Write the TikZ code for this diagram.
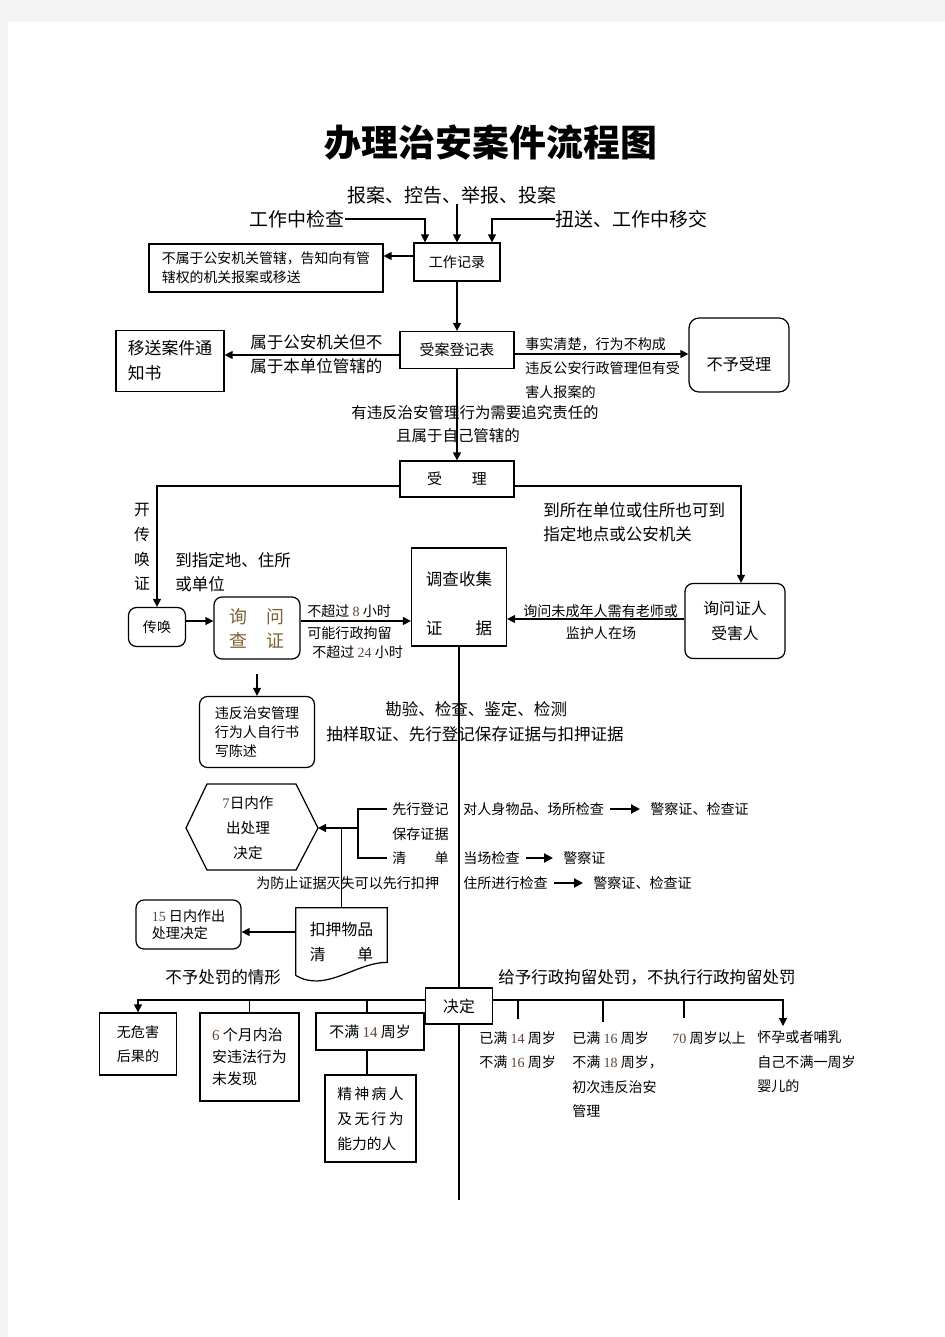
\documentclass[tikz,border=0pt]{standalone}
\usepackage{fontspec}
\setmainfont{Noto Sans CJK SC}
\newfontfamily\numfont{Liberation Serif}
\usetikzlibrary{arrows.meta,calc}
\definecolor{pagegray}{RGB}{243,243,243}
\definecolor{numcol}{RGB}{95,70,55}
\definecolor{xwcol}{RGB}{125,95,50}
\newcommand{\dg}[1]{{\numfont\color{numcol}#1}}
\newcommand{\szS}{\fontsize{8}{13.6}\selectfont}
\newcommand{\szM}{\fontsize{8.5}{12}\selectfont}
\newcommand{\szB}{\fontsize{9.4}{13.9}\selectfont}
\newcommand{\szL}{\fontsize{10.8}{13}\selectfont}
\begin{document}
\begin{tikzpicture}[x=0.02cm, y=-0.02cm,
    box/.style={draw, line width=0.7pt, inner sep=0pt, align=center},
    rbox/.style={box, rounded corners=1.6mm},
    lbl/.style={inner sep=0pt, align=left},
    ln/.style={line width=0.7pt},
    arr/.style={ln, -{Triangle[length=1.6mm, width=1.6mm]}},
    sarr/.style={line width=1.2pt, -{Triangle[length=1.8mm, width=1.8mm]}, shorten <=1.2mm, shorten >=2mm}]
    \useasboundingbox (0,0) rectangle (945,1337);
    \fill[pagegray] (0,0) rectangle (945,1337);
    \fill[white] (8,22) rectangle (945,1337);

    \node[font=\fontsize{21}{21}\selectfont\bfseries] (title) at (491,142) {办理治安案件流程图};

    \node[lbl, font=\szL] (baoan) at (452,195) {报案、控告、举报、投案};
    \node[lbl, font=\szL, anchor=east] (gzjc) at (345,219) {工作中检查};
    \node[lbl, font=\szL, anchor=west] (niusong) at (555,219) {扭送、工作中移交};
    \node[box, font=\szS, minimum width=17.2mm, minimum height=7.6mm] (jilu) at (457,262) {工作记录};
    \node[box, font=\fontsize{7.9}{10.8}\selectfont, align=left, minimum width=46.8mm, minimum height=9.6mm] (buzhu) at (266,268) {不属于公安机关管辖，告知向有管\\辖权的机关报案或移送};
    \draw[arr] (baoan.south -| jilu.north) -- (jilu.north);
    \draw[arr] (gzjc.east) -| ($(jilu.north)+(-32,0)$);
    \draw[arr] (niusong.west) -| ($(jilu.north)+(35,0)$);
    \draw[arr] ($(jilu.west)+(0,-6)$) coordinate (a) -- (a -| buzhu.east);

    \node[box, font=\szM, minimum width=22.8mm, minimum height=7.4mm] (shouan) at (457,350) {受案登记表};
    \node[box, font=\fontsize{9.6}{14.2}\selectfont, align=left, minimum width=21.6mm, minimum height=12.2mm] (yisong) at (170,361) {移送案件通\\知书};
    \node[rbox, rounded corners=2mm, font=\fontsize{9.2}{12}\selectfont, minimum width=20mm, minimum height=14.8mm] (buyu) at (739,355) {\rule{0pt}{18pt}不予受理};
    \draw[arr] (jilu.south) -- (shouan.north);
    \draw[arr] ($(shouan.west)+(0,5)$) coordinate (a) -- (a -| yisong.east);
    \draw[arr] ($(shouan.east)+(0,4)$) coordinate (a) -- (a -| buyu.west);
    \node[lbl, font=\szB, anchor=west] (shuyu) at (250,354.5) {属于公安机关但不\\属于本单位管辖的};
    \node[lbl, font=\szS, anchor=west] (shishi) at (525,368.5) {事实清楚，行为不构成\\违反公安行政管理但有受\\害人报案的};
    \node[lbl, font=\fontsize{8.8}{13}\selectfont] (youwei) at (475,413) {有违反治安管理行为需要追究责任的};
    \node[lbl, font=\fontsize{8.8}{13}\selectfont] (qieshu) at (458,436) {且属于自己管辖的};

    \node[box, font=\szM, minimum width=22.8mm, minimum height=7.2mm] (shouli) at (457,479) {受\hspace{2em}理};
    \draw[arr] (shouan.south) -- (shouli.north);
    \node[rbox, font=\szS, minimum width=11.4mm, minimum height=7.8mm] (chuanhuan) at (157,627) {传唤};
    \node[rbox, font=\fontsize{10.2}{13.6}\selectfont, text=xwcol, minimum width=17.2mm, minimum height=12.4mm] (xunwen) at (257,628) {询\hspace{1.1em}问\\查\hspace{1.1em}证};
    \node[box, font=\fontsize{9.4}{27.8}\selectfont, minimum width=19mm, minimum height=19.6mm] (diaocha) at (459,597) {\rule{0pt}{16pt}调查收集\\证\hspace{2em}据};
    \node[rbox, font=\fontsize{9}{14.2}\selectfont, minimum width=20mm, minimum height=15mm] (xunzheng) at (735,621) {询问证人\\受害人};
    \draw[arr] ($(shouli.west)+(0,7)$) -| (chuanhuan.north);
    \draw[arr] ($(shouli.east)+(0,7)$) -| ($(xunzheng.north)+(6,0)$);
    \draw[arr] ($(chuanhuan.east)+(0,-6)$) coordinate (a) -- (a -| xunwen.west);
    \draw[arr] ($(xunwen.east)+(0,-7)$) coordinate (a) -- (a -| diaocha.west);
    \draw[arr] ($(xunzheng.west)+(0,-2)$) coordinate (a) -- (a -| diaocha.east);
    \node[lbl, font=\fontsize{9}{14}\selectfont] (kai) at (142,547) {开\\传\\唤\\证};
    \node[lbl, font=\szB, anchor=west] (daozhi) at (175,572) {到指定地、住所\\或单位};
    \node[lbl, font=\szB, anchor=west] (daosuo) at (543,522) {到所在单位或住所也可到\\指定地点或公安机关};
    \node[lbl, font=\szS, anchor=west] (bc8) at (307,611) {不超过 \dg{8} 小时};
    \node[lbl, font=\szS, anchor=west] (kn) at (307,633) {可能行政拘留};
    \node[lbl, font=\szS, anchor=west] (bc24) at (312,652) {不超过 \dg{24} 小时};
    \node[lbl, font=\szS, anchor=west] (xwwc) at (523,611) {询问未成年人需有老师或};
    \node[lbl, font=\szS] (jhr) at (601,633) {监护人在场};

    \node[rbox, font=\fontsize{8}{10.8}\selectfont, align=left, minimum width=23mm, minimum height=14.2mm] (chenshu) at (257,732) {违反治安管理\\行为人自行书\\写陈述};
    \draw[arr] ($(xunwen.south)+(0,14)$) -- (chenshu.north);
    \node[lbl, font=\szB, anchor=west] (kanyan) at (385,709) {勘验、检查、鉴定、检测};
    \node[lbl, font=\szB, anchor=west] (chouyang) at (326,734) {抽样取证、先行登记保存证据与扣押证据};

    \node[lbl, font=\fontsize{8.3}{14.2}\selectfont, align=center] (qiri) at (248,828) {\dg{7}日内作\\出处理\\决定};
    \draw[ln] ($(qiri)+(-62,0)$) -- ++(21,-44) -- ++(89,0) -- ++(22,44) coordinate (qiriR) -- ++(-22,42) -- ++(-89,0) -- cycle;
    \node[lbl, font=\szS, anchor=west] (xxdj) at (392,809) {先行登记};
    \node[lbl, font=\szS, anchor=west] (bczj) at (392,834) {保存证据};
    \node[lbl, font=\szS, anchor=west] (qdan) at (392,858) {清\hspace{2em}单};
    \draw[ln] ($(xxdj.west)+(-5,0)$) -- ++(-29,0) coordinate (brT) |- ($(qdan.west)+(-5,0)$);
    \draw[arr] (brT |- qiriR) -- (qiriR);
    \node[lbl, font=\szS, anchor=west] (rensh) at (463,809) {对人身物品、场所检查};
    \node[lbl, font=\szS, anchor=west] (jz1) at (650,809) {警察证、检查证};
    \node[lbl, font=\szS, anchor=west] (dangch) at (463,858) {当场检查};
    \node[lbl, font=\szS, anchor=west] (jz2) at (563,858) {警察证};
    \node[lbl, font=\szS, anchor=west] (zhusuo) at (463,883) {住所进行检查};
    \node[lbl, font=\szS, anchor=west] (jz3) at (593,883) {警察证、检查证};
    \draw[sarr] (rensh.east) -- (jz1.west);
    \draw[sarr] (dangch.east) -- (jz2.west);
    \draw[sarr] (zhusuo.east) -- (jz3.west);
    \node[lbl, font=\szS, anchor=west] (fangzhi) at (256,883) {为防止证据灭失可以先行扣押};

    \node[inner sep=0pt, align=left, font=\fontsize{9}{14.2}\selectfont, minimum width=18.2mm, minimum height=13.4mm] (kouya) at (341.5,941.5) {扣押物品\\清\hspace{2em}单};
    \draw[ln] (kouya.south west) -- (kouya.north west) -- (kouya.north east) -- ($(kouya.south east)+(0,-13)$) .. controls ($(kouya.south east)+(-32,-13)$) and ($(kouya.south west)+(30,18)$) .. (kouya.south west);
    \draw[ln] (kouya.north |- qiriR) -- (kouya.north);
    \node[rbox, font=\fontsize{8}{9.6}\selectfont, align=left, minimum width=21mm, minimum height=9.8mm] (shiwu) at (188.5,924.5) {\dg{15} 日内作出\\处理决定};
    \draw[arr] ($(kouya.west)+(0,-9.5)$) coordinate (a) -- (a -| shiwu.east);

    \node[lbl, font=\szB, anchor=west] (buyuchu) at (165,977) {不予处罚的情形};
    \node[lbl, font=\szB, anchor=west] (geiyu) at (498,977) {给予行政拘留处罚，不执行行政拘留处罚};

    \node[box, font=\fontsize{9}{12}\selectfont, minimum width=13.4mm, minimum height=7.2mm] (jueding) at (459,1006) {决定};
    \coordinate (endp) at (459,1200);
    \draw[ln] (diaocha.south) -- (jueding.north);
    \draw[ln] (jueding.south) -- (endp);
    \coordinate (hl) at ($(jueding.west)+(0,-6)$);
    \coordinate (hr) at ($(jueding.east)+(0,-6)$);
    \coordinate (t4) at (783,1026);

    \node[box, font=\fontsize{8}{13.6}\selectfont, align=left, minimum width=15.4mm, minimum height=12.4mm] (wuweihai) at (138,1044) {无危害\\后果的};
    \node[box, font=\fontsize{8.5}{12.5}\selectfont, align=left, minimum width=19.8mm, minimum height=17.6mm] (liuge) at (249.5,1057) {\dg{6} 个月内治\\安违法行为\\未发现};
    \node[box, font=\szM, minimum width=21.6mm, minimum height=7.4mm] (bumang) at (370,1031.5) {不满 \dg{14} 周岁};
    \node[box, font=\fontsize{8.4}{14.2}\selectfont, align=left, minimum width=18.2mm, minimum height=17.4mm] (jingshen) at (370.5,1118.5) {精\,神\,病\,人\\及\,无\,行\,为\\能力的人};
    \draw[arr] (hl) -| (wuweihai.north);
    \draw[arr] (hr) -| (t4);
    \draw[ln] (liuge.north |- hl) -- (liuge.north);
    \draw[ln] ($(bumang.north)+(-3,0)$) coordinate (a) -- (a |- hl);
    \draw[ln] ($(bumang.south)+(-3,0)$) coordinate (a) -- (a |- jingshen.north);
    \foreach \tx/\ty in {518/1019, 603/1022, 684/1018}
        \draw[ln] (hl -| \tx,0) -- (\tx,\ty);

    \node[lbl, font=\szS, anchor=west] (y14) at (479,1050) {已满 \dg{14} 周岁\\不满 \dg{16} 周岁};
    \node[lbl, font=\fontsize{8}{13.8}\selectfont, anchor=west] (y16) at (572,1074.5) {已满 \dg{16} 周岁\\不满 \dg{18} 周岁，\\初次违反治安\\管理};
    \node[lbl, font=\szS, anchor=west] (q70) at (672,1038) {\dg{70} 周岁以上};
    \node[lbl, font=\fontsize{8}{13.9}\selectfont, anchor=west] (huaiyun) at (757,1062) {怀孕或者哺乳\\自己不满一周岁\\婴儿的};
\end{tikzpicture}
\end{document}
